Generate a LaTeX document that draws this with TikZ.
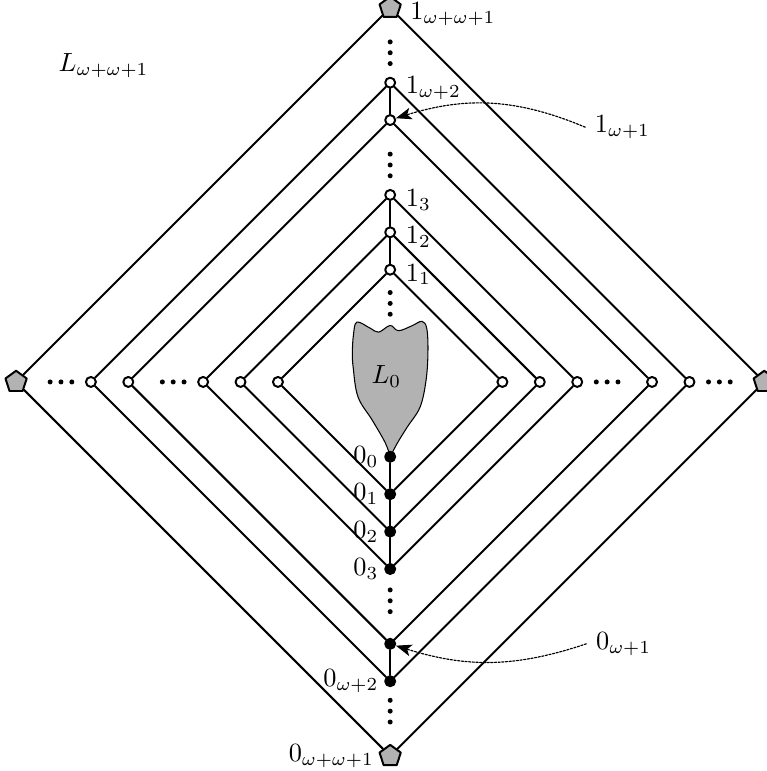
\documentclass[tikz,border=0pt]{standalone}
\usetikzlibrary{shapes.geometric,arrows.meta}
\tikzset{
  open/.style={circle,draw,fill=white,inner sep=0pt,minimum size=3.8pt},
  full/.style={circle,draw,fill=black,inner sep=0pt,minimum size=3.8pt},
  pent/.style={regular polygon,regular polygon sides=5,draw,fill=black!30,inner sep=0pt,minimum size=8.5pt},
  rlab/.style={label={[anchor=base west,yshift=-4.3pt]right:$#1$}},
  llab/.style={label={[label distance=-1.5pt]left:$#1$}},
  pointer/.style={dash pattern=on .8pt off .6pt,line width=.45pt,-{Stealth[length=6pt,width=4.5pt,inset=1.5pt]}}
}
\begin{document}
\begin{tikzpicture}[line join=round,line cap=round,line width=.75pt,scale=.5]
\useasboundingbox (-10.43,-10.40) rectangle (10.05,10.21);
% the region L_0
\draw[line width=.4pt,fill=black!30] plot[smooth,tension=.6] coordinates {(0,-2) (.2,-1.62) (.46,-1.2) (.8,-.67) (.96,.05) (1.01,.8) (.98,1.42) (.85,1.62) (.58,1.5) (.22,1.37) (0,1.51) (-.31,1.33) (-.54,1.44) (-.89,1.6) (-.98,1.27) (-1.01,.81) (-.99,.4) (-.86,-.4) (-.48,-1.02) (-.13,-1.63) (0,-2)} -- cycle;
\node (reg) at (-.1,.15) {$L_0$};
\node (Lw) at (-7.66,8.45) {$L_{\omega+\omega+1}$};
% vertices on the axis
\node[pent,rlab={1_{\omega+\omega+1}}] (T10) at (0,10) {};
\node[open,rlab={1_{\omega+2}}] (T8) at (0,8) {};
\node[open] (T7) at (0,7) {};
\node[open,rlab={1_3}] (T5) at (0,5) {};
\node[open,rlab={1_2}] (T4) at (0,4) {};
\node[open,rlab={1_1}] (T3) at (0,3) {};
\node[full,llab={0_0}] (B2) at (0,-2) {};
\node[full,llab={0_1}] (B3) at (0,-3) {};
\node[full,llab={0_2}] (B4) at (0,-4) {};
\node[full,llab={0_3}] (B5) at (0,-5) {};
\node[full] (B7) at (0,-7) {};
\node[full,llab={0_{\omega+2}}] (B8) at (0,-8) {};
\node[pent,llab={0_{\omega+\omega+1}}] (B10) at (0,-10) {};
\foreach \r in {3,4,5,7,8}{
  \node[open] (L\r) at (-\r,0) {};
  \node[open] (R\r) at (\r,0) {};
}
\node[pent] (L10) at (-10,0) {};
\node[pent] (R10) at (10,0) {};
% the squares
\foreach \r in {3,4,5,7,8,10}
  \draw (T\r)--(L\r)--(B\r)--(R\r)--(T\r);
\draw (T3)--(T4)--(T5) (T7)--(T8) (B2)--(B3)--(B4)--(B5) (B7)--(B8);
% dots
\foreach \y in {2.1,5.8,8.8,-5.85,-8.8}
  \foreach \d in {-.29,0,.29}
    \fill (0,\y) ++(0,\d) circle (1.9pt);
\foreach \x in {5.8,8.8,-5.8,-8.8}
  \foreach \d in {-.29,0,.29}
    \fill (\x,0) ++(\d,0) circle (1.9pt);
% pointers
\node (top1) at (6.21,6.81) {$1_{\omega+1}$};
\node (bot0) at (6.24,-7) {$0_{\omega+1}$};
\draw[pointer] (top1.west) to[bend right=20] (T7);
\draw[pointer] (bot0.west) to[bend left=18] (B7);
\end{tikzpicture}
\end{document}
